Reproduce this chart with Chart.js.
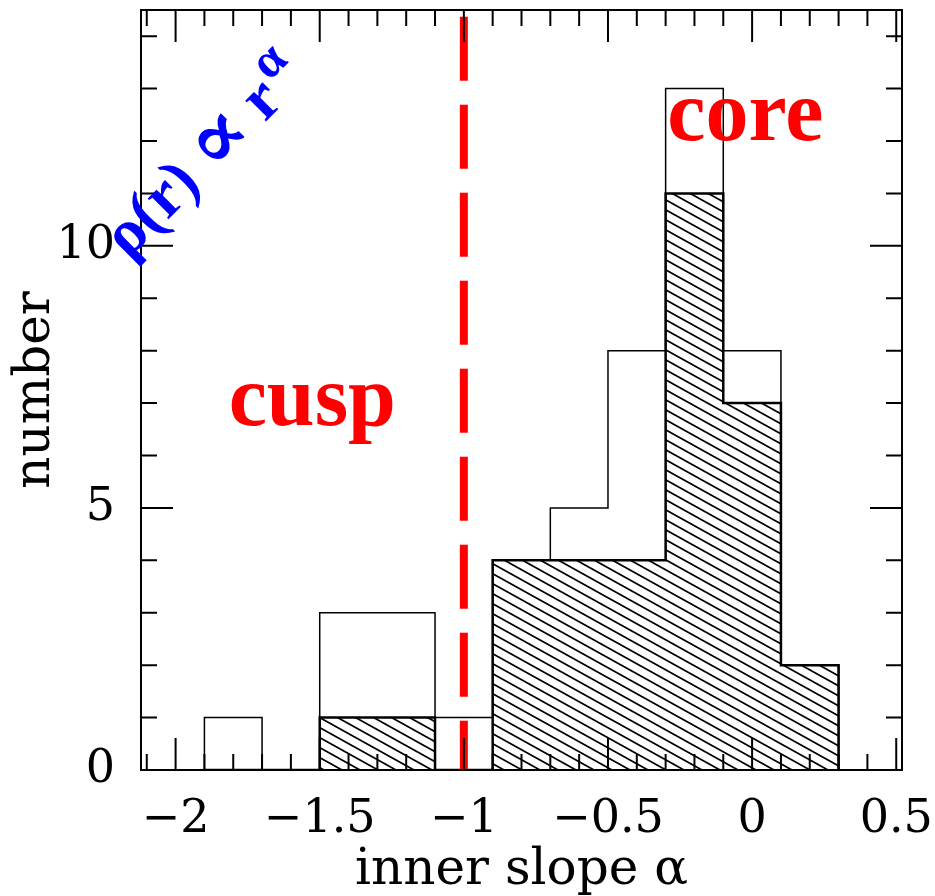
<!DOCTYPE html>
<html><head><meta charset="utf-8">
<script src="https://cdn.jsdelivr.net/npm/chart.js@4"></script>
<style>html,body{margin:0;padding:0;background:#fff}#wrap{width:935px;height:896px}</style>
</head><body><div id="wrap"><canvas id="c" width="935" height="896"></canvas></div>
<script>
// ---- data ----
const binEdges   = [-1.9,-1.7,-1.5,-1.3,-1.1,-0.9,-0.7,-0.5,-0.3,-0.1,0.1,0.3];
const allCounts  = [1,0,3,3,1,4,5,8,13,8,2];      // open histogram
const coreCounts = [0,0,1,1,0,4,4,4,11,7,2];      // hatched histogram
const cuspCoreDivide = -1;
const xMajorTicks = [-2,-1.5,-1,-0.5,0,0.5];
const yMajorTicks = [0,5,10];
const xTitle = 'inner slope \u03B1';
const yTitle = 'number';

function stepPoints(edges, counts){
  const pts=[{x:edges[0],y:0}];
  counts.forEach((c,i)=>pts.push({x:edges[i],y:c}));
  pts.push({x:edges[edges.length-1],y:0});
  return pts;
}
function hatchPattern(){
  const c=document.createElement('canvas'); c.width=18; c.height=10;
  const g=c.getContext('2d'); g.strokeStyle='#000'; g.lineWidth=1.7;
  for(let k=-2;k<=2;k++){ g.beginPath(); g.moveTo(-18,10*k-10); g.lineTo(36,10*k+20); g.stroke(); }
  return g.createPattern(c,'repeat');
}
const isMajor=(v,list)=>list.some(m=>Math.abs(m-v)<1e-6);
const fmt=v=>{const r=Math.round(v*10)/10; return (r<0?'\u2212':'')+Math.abs(r);};
const noPad=s=>{s.paddingTop=0;s.paddingBottom=0;s.paddingLeft=0;s.paddingRight=0;};

const frameTicks={id:'frameTicks',afterDatasetsDraw(chart){
  const {ctx,chartArea:a,scales:{x,y}}=chart;
  ctx.save(); ctx.strokeStyle='#000'; ctx.lineWidth=2; ctx.lineCap='butt';
  ctx.strokeRect(a.left,a.top,a.right-a.left,a.bottom-a.top);
  ctx.beginPath();
  x.ticks.forEach(t=>{ const v=Math.round(t.value*10)/10; if(Math.abs(v-t.value)>1e-6) return;
    const px=x.getPixelForValue(t.value); const L=isMajor(v,xMajorTicks)?32:16;
    ctx.moveTo(px,a.bottom); ctx.lineTo(px,a.bottom-L); ctx.moveTo(px,a.top); ctx.lineTo(px,a.top+L); });
  y.ticks.forEach(t=>{ if(Math.abs(t.value-Math.round(t.value))>1e-6) return;
    const py=y.getPixelForValue(t.value); const L=isMajor(t.value,yMajorTicks)?32:16;
    ctx.moveTo(a.left,py); ctx.lineTo(a.left+L,py); ctx.moveTo(a.right,py); ctx.lineTo(a.right-L,py); });
  ctx.stroke();
  // annotations
  ctx.fillStyle='#ff0000'; ctx.font='bold 86px "Liberation Serif","DejaVu Serif",serif';
  ctx.textAlign='left'; ctx.textBaseline='alphabetic';
  ctx.fillText('cusp', x.getPixelForValue(-1.816), y.getPixelForValue(6.58));
  ctx.fillText('core', x.getPixelForValue(-0.294), y.getPixelForValue(12.02));
  // blue rotated label
  ctx.fillStyle='#0000ff';
  const cx=x.getPixelForValue(-1.903), cy=y.getPixelForValue(11.72);
  ctx.translate(cx,cy); ctx.rotate(-Math.PI/4);
  const fA='bold 64px "Liberation Serif","DejaVu Serif",serif';
  const fB='bold 84px "DejaVu Serif",serif';
  const fC='bold 50px "Liberation Serif","DejaVu Serif",serif';
  const parts=[['\u03C1(r) ',fA,0],['\u221D',fB,4],[' r',fA,0],['\u03B1',fC,-26]];
  let w=0; const ws=parts.map(p=>{ctx.font=p[1]; const m=ctx.measureText(p[0]).width; w+=m; return m;});
  w+=4;
  let px=-w/2;
  parts.forEach((p,i)=>{ ctx.font=p[1]; if(i===3) px+=4; ctx.fillText(p[0],px,20+p[2]); px+=ws[i]; });
  ctx.restore();
}};

new Chart(document.getElementById('c'),{
  type:'line',
  data:{datasets:[
    {data:[{x:cuspCoreDivide,y:14.37},{x:cuspCoreDivide,y:0}],borderColor:'#ff0000',borderWidth:8,borderDash:[64,24],borderCapStyle:'butt',pointRadius:0,fill:false},
    {data:stepPoints(binEdges,coreCounts),stepped:'before',borderColor:'#000',borderWidth:2.5,backgroundColor:hatchPattern(),fill:'origin',pointRadius:0},
    {data:stepPoints(binEdges,allCounts),stepped:'before',borderColor:'#000',borderWidth:1.5,fill:false,pointRadius:0}
  ]},
  options:{
    responsive:false,animation:false,events:[],
    layout:{padding:{left:0,right:33,top:10,bottom:0}},
    plugins:{legend:{display:false},tooltip:{enabled:false}},
    scales:{
      x:{type:'linear',min:-2.12,max:0.52,
        grid:{display:false,drawTicks:false},border:{display:false},
        ticks:{stepSize:0.1,includeBounds:false,autoSkip:false,maxRotation:0,padding:22,color:'#000',
          font:{family:'"DejaVu Serif",serif',size:46},
          callback:v=>isMajor(Math.round(v*10)/10,xMajorTicks)?fmt(v):''},
        title:{display:true,text:xTitle,color:'#000',font:{family:'"DejaVu Serif",serif',size:50,lineHeight:1},padding:{top:0,bottom:0}},
        afterFit:s=>{s.height=126;noPad(s);}},
      y:{type:'linear',min:0,max:14.5,
        grid:{display:false,drawTicks:false},border:{display:false},
        ticks:{stepSize:1,includeBounds:false,autoSkip:false,padding:26,color:'#000',
          font:{family:'"DejaVu Serif",serif',size:46},
          callback:v=>isMajor(v,yMajorTicks)?String(v):''},
        title:{display:true,text:yTitle,color:'#000',font:{family:'"DejaVu Serif",serif',size:50,lineHeight:1},padding:{top:11,bottom:0}},
        afterFit:s=>{s.width=141;noPad(s);}}
    }
  },
  plugins:[frameTicks]
});
</script></body></html>
